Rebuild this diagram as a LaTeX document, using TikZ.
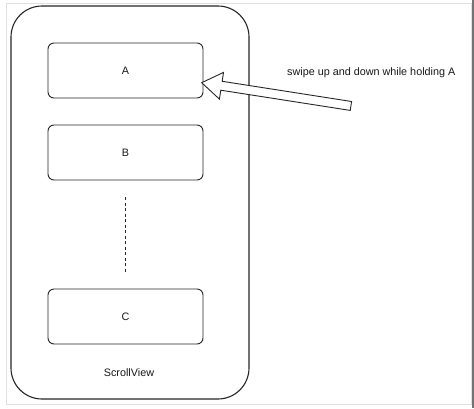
\documentclass[tikz,border=0pt]{standalone}
\usepackage{fontspec}
\setmainfont{Liberation Sans}
\begin{document}
\begin{tikzpicture}[x=1pt,y=-1pt,
  itembox/.style={draw=black!85,line width=0.9pt,rounded corners=6pt,minimum width=155pt,minimum height=55pt,inner sep=0pt},
  lbl/.style={font=\fontsize{10.8}{13}\selectfont,text=black!90,inner sep=0pt},
  blockarrow/.style={draw=black!85,line width=0.9pt,fill=white,line join=miter}]
\useasboundingbox (0,0) rectangle (474,408);
\fill[white] (0,0) rectangle (474,408);
% screenshot frame
\draw[black!12,line width=0.8pt] (6,3) rectangle (471,404.5);
\draw[black!55,line width=2pt] (473,0) -- (473,408);
% scroll view
\draw[black!85,line width=1.1pt,rounded corners=31pt] (11,6) rectangle (249,399);
\node[lbl] (sv) at (129,373) {ScrollView};
% items
\node[itembox,lbl] (A) at (125.5,70.5) {A};
\node[itembox,lbl] (B) at (125.5,152.5) {B};
\node[itembox,lbl] (C) at (125.5,316.5) {C};
\coordinate (d1) at (125,197);
\coordinate (d2) at (125,272);
\draw[black!85,line width=0.9pt,dash pattern=on 3pt off 2.5pt] (d1) -- (d2);
% block arrow
\coordinate (tip) at (201.7,82.7);
\draw[blockarrow] (tip) -- (223.5,72.4) -- (222.2,81.3) -- (351.6,101.5) -- (350.2,110.4) -- (220.8,90.2) -- (219.4,99.1) -- cycle;
\node[lbl,anchor=west] (note) at (287,73) {swipe up and down while holding A};
\end{tikzpicture}
\end{document}
